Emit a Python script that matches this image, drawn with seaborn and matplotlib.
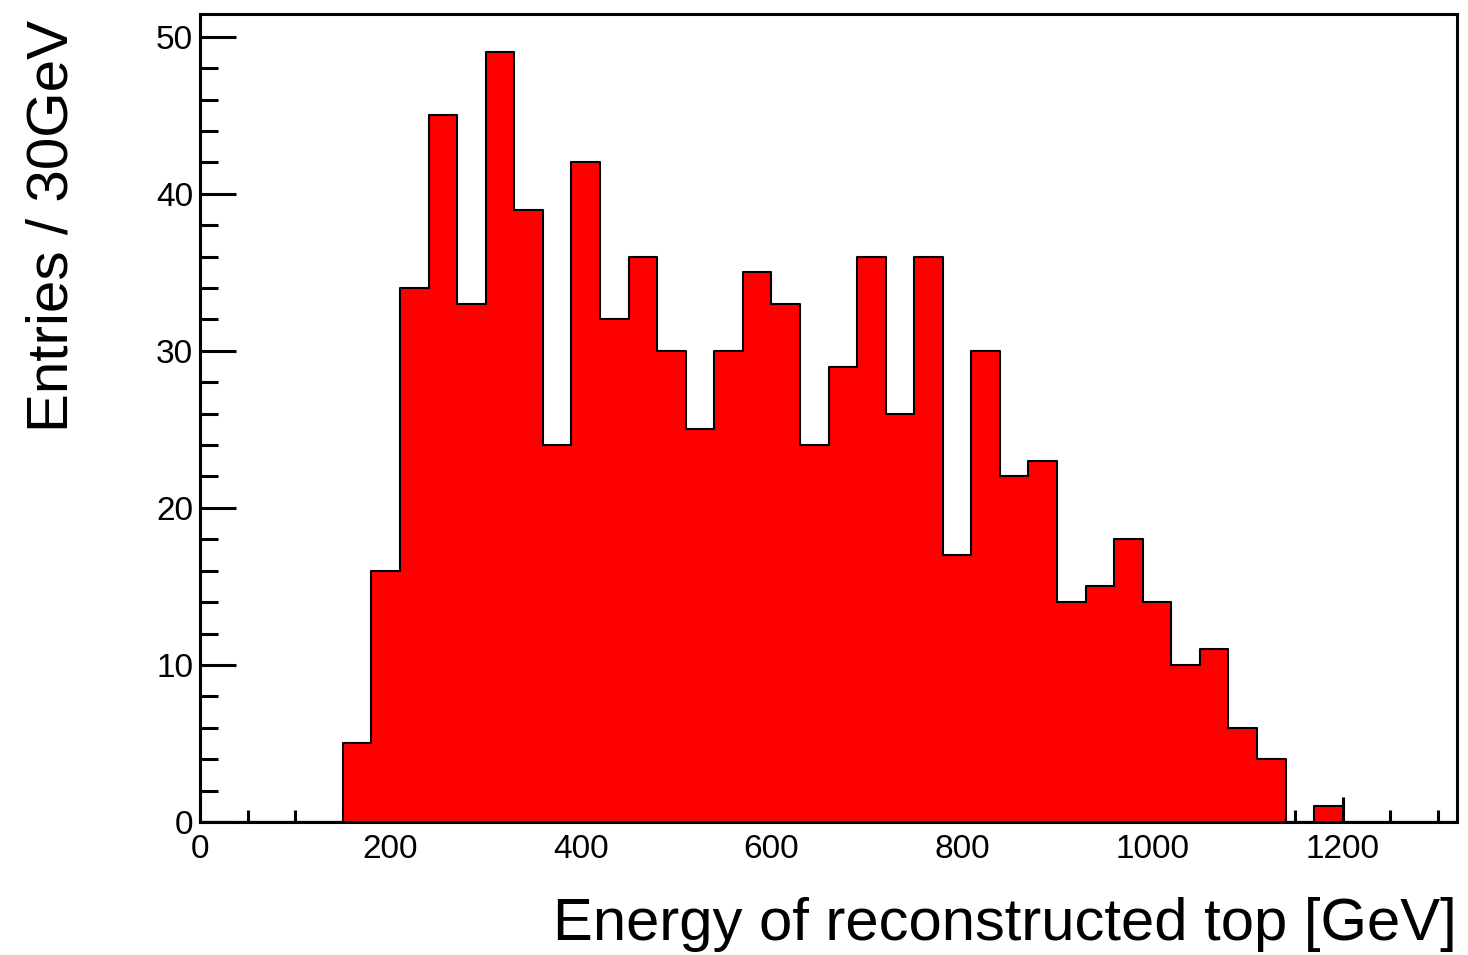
import numpy as np
import pandas as pd
import matplotlib
matplotlib.use("Agg")
import matplotlib.pyplot as plt
from matplotlib.ticker import MultipleLocator
import seaborn as sns

# Histogram data: 30 GeV bins from 0 to 1320 GeV
bin_edges = list(range(0, 1321, 30))
counts = [0, 0, 0, 0, 0,
          5, 16, 34, 45, 33, 49, 39, 24, 42, 32,
          36, 30, 25, 30, 35, 33, 24, 29, 36, 26,
          36, 17, 30, 22, 23, 14, 15, 18, 14, 10,
          11, 6, 4, 0, 1,
          0, 0, 0, 0]
x_label = "Energy of reconstructed top [GeV]"
y_label = "Entries / 30GeV"

centers = [(bin_edges[i] + bin_edges[i + 1]) / 2 for i in range(len(counts))]
df = pd.DataFrame({"energy": centers, "entries": counts})

sns.set_style("white")
plt.rcParams["font.family"] = ["Liberation Sans", "DejaVu Sans"]
plt.rcParams["text.color"] = "black"
plt.rcParams["axes.labelcolor"] = "black"
plt.rcParams["xtick.color"] = "black"
plt.rcParams["ytick.color"] = "black"

fig = plt.figure(figsize=(14.68, 9.55), dpi=100)
ax = fig.add_axes([200 / 1468, 1 - 822 / 955, 1257 / 1468, 808 / 955])

sns.histplot(data=df, x="energy", weights="entries", bins=bin_edges,
             element="step", fill=True, color="#ff0000", alpha=1.0,
             edgecolor="black", linewidth=1.5, ax=ax)

ax.set_xlim(0, 1320)
ax.set_ylim(0, max(counts) * 1.05)

for s in ax.spines.values():
    s.set_visible(True)
    s.set_color("black")
    s.set_linewidth(2.2)

ax.xaxis.set_major_locator(MultipleLocator(200))
ax.xaxis.set_minor_locator(MultipleLocator(50))
ax.yaxis.set_major_locator(MultipleLocator(10))
ax.yaxis.set_minor_locator(MultipleLocator(2))

ax.tick_params(axis="both", which="both", direction="in", width=2.2, color="black",
               labelcolor="black", labelsize=24, top=False, right=False,
               bottom=True, left=True)
ax.tick_params(axis="x", which="major", length=18, pad=9)
ax.tick_params(axis="x", which="minor", length=9)
ax.tick_params(axis="y", which="major", length=26, pad=5)
ax.tick_params(axis="y", which="minor", length=13)

ax.set_xlabel(x_label, fontsize=43, loc="right", color="black")
ax.set_ylabel(y_label, fontsize=42, loc="top", color="black")
ax.xaxis.set_label_coords(1.0, -0.093)
ax.yaxis.set_label_coords(-0.117, 0.993)
ax.yaxis.label.set_va("center")

fig.savefig("out.png", dpi=100)
